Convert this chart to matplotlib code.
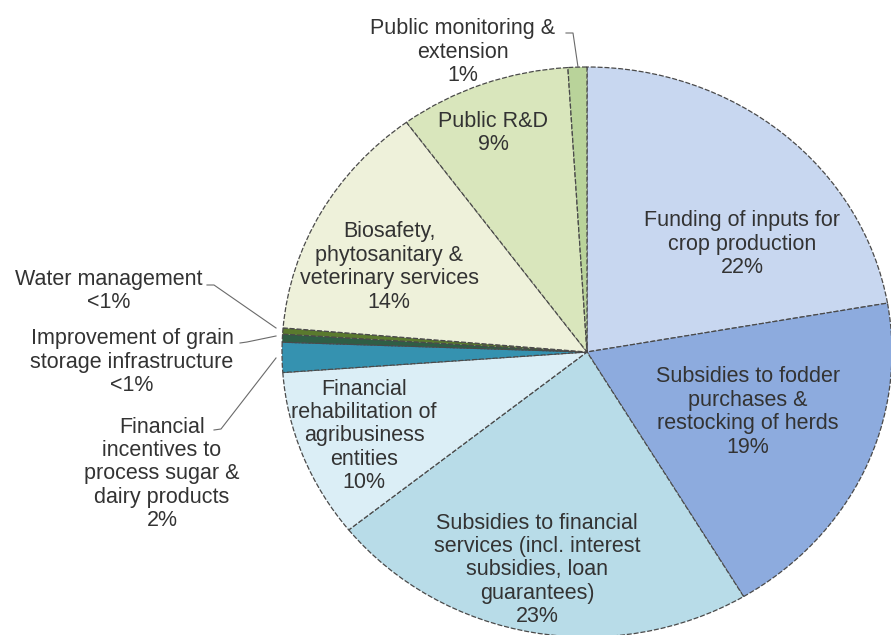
import matplotlib
matplotlib.use("Agg")
import matplotlib.pyplot as plt

labels = [
    "Funding of inputs for\ncrop production\n22%",
    "Subsidies to fodder\npurchases &\nrestocking of herds\n19%",
    "Subsidies to financial\nservices (incl. interest\nsubsidies, loan\nguarantees)\n23%",
    "Financial\nrehabilitation of\nagribusiness\nentities\n10%",
    "Financial\nincentives to\nprocess sugar &\ndairy products\n2%",
    "Improvement of grain\nstorage infrastructure\n<1%",
    "Water management\n<1%",
    "Biosafety,\nphytosanitary &\nveterinary services\n14%",
    "Public R&D\n9%",
    "Public monitoring &\nextension\n1%",
]
values = [22.3, 19.2, 22.9, 9.6, 1.7, 0.45, 0.35, 13.6, 9.1, 1.0]
colors = ["#c8d7f0", "#8dabde", "#b8dce8", "#dbeef6", "#3592b0",
          "#2f5e45", "#5a7a2e", "#eef1da", "#d9e6bc", "#b9d39a"]

W, H = 891, 635
CX, CY, RX, RY = 587, 352, 305, 285

def px(x, y):
    return ((x - CX) / RX, (CY - y) / RY)

fig = plt.figure(figsize=(W / 100, H / 100), dpi=100)
ax = fig.add_axes([0, 0, 1, 1])
ax.pie(values, colors=colors, startangle=90, counterclock=False,
       wedgeprops=dict(edgecolor="#4a4a4a", linewidth=0.9,
                       linestyle=(0, (4, 1.5))))
ax.set_aspect("auto")
ax.set_xlim(px(0, 0)[0], px(W, 0)[0])
ax.set_ylim(px(0, H)[1], px(0, 0)[1])
ax.axis("off")

txt = dict(ha="center", va="center", fontsize=15.5, color="#333333",
           family="Liberation Sans", linespacing=1.15)

# inside labels (pixel positions of label centres)
inside = [
    (0, 742, 244),
    (1, 748, 412),
    (2, 537, 570),
    (3, 364, 436),
    (7, 389, 267),
    (8, 493, 133),
]
for i, x, y in inside:
    ax.text(*px(x, y), labels[i], **txt)

# outside labels with leader lines
outside = [
    (9, 463, 52, [(566, 33), (573, 33), (578, 67)]),
    (6, 109, 291, [(207, 285), (214, 285), (276, 328)]),
    (5, 132, 362, [(240, 343), (247, 342), (276, 336)]),
    (4, 162, 474, [(214, 430), (221, 429), (276, 358)]),
]
for i, x, y, pts in outside:
    ax.text(*px(x, y), labels[i], **txt)
    xs = [px(a, b)[0] for a, b in pts]
    ys = [px(a, b)[1] for a, b in pts]
    ax.plot(xs, ys, color="#6a6a6a", lw=0.8)

fig.savefig("out.png", dpi=100)
